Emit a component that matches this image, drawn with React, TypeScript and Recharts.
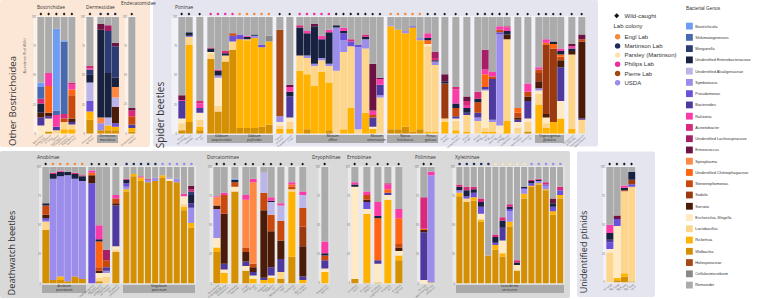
import React from "react";
import { BarChart, Bar, XAxis, YAxis } from "recharts";

type Colony = "W" | "E" | "M" | "P" | "Ph" | "Pi" | "U";
type Sample = { id: string; c: Colony; [genus: string]: number | string };

// stacking order, bottom -> top
const stackOrder = [
  "wol", "ric", "lab", "esc", "sym", "pse", "bac", "hol", "ser", "sod", "ste", "chi",
  "alc", "spi", "ent", "mor", "ral", "aci", "lac", "enc", "shi", "bos", "cel", "rem",
];

// legend order, top -> bottom
const legendOrder = [
  "bos", "shi", "mor", "ent", "alc", "sym", "pse", "bac", "ral", "aci", "lac", "enc",
  "spi", "chi", "ste", "sod", "ser", "esc", "lab", "ric", "wol", "hol", "cel", "rem",
];

const genusNames: Record<string, string> = {
  bos: "Bostrichicola", shi: "Shikimatogenerans", mor: "Morganella",
  ent: "Unidentified Enterobacteriaceae", alc: "Unidentified Alcaligenaceae",
  sym: "Symbiotaxus", pse: "Pseudomonas", bac: "Bacteroides", ral: "Ralstonia",
  aci: "Acinetobacter", lac: "Unidentified Lachnospiraceae", enc: "Enterococcus",
  spi: "Spiroplasma", chi: "Unidentified Chitinophagaceae", ste: "Stenotrophomonas",
  sod: "Sodalis", ser: "Serratia", esc: "Escherichia–Shigella", lab: "Lactobacillus",
  ric: "Rickettsia", wol: "Wolbachia", hol: "Holosporaceae",
  cel: "Cellulosimicrobium", rem: "Remainder",
};

const genusColors: Record<string, string> = {
  bos: "#6E9CF2", shi: "#4868B0", mor: "#2B3C73", ent: "#18213F", alc: "#BAB6EA",
  sym: "#9C8DEB", pse: "#6B50D8", bac: "#4E3A9E", ral: "#FA3BA8", aci: "#D8297A",
  lac: "#A51E66", enc: "#6B1342", spi: "#FF8845", chi: "#FF6412", ste: "#C9480E",
  sod: "#9C3A0F", ser: "#4A1B08", esc: "#FFEAC4", lab: "#FDD68B", ric: "#FFB300",
  wol: "#D58F02", hol: "#A54A16", cel: "#888888", rem: "#ABABAB",
};

const colonyNames: [Colony, string][] = [
  ["E", "Engl Lab"], ["M", "Martinson Lab"], ["P", "Parsley (Martinson)"],
  ["Ph", "Philips Lab"], ["Pi", "Pierre Lab"], ["U", "USDA"],
];
const colonyColors: Record<string, string> = {
  E: "#F58A3C", M: "#1F2C57", P: "#FFE2AE", Ph: "#EE2F9A", Pi: "#A04A12", U: "#9B8BEA",
};

// ---- Other Bostrichoidea ----
const bostrichidae: Sample[] = [
  { id: "Bostrichus capucinus", c: "W", esc: 7, ent: 8, ser: 4, bac: 7, aci: 4, shi: 10, bos: 4, rem: 56 },
  { id: "Dinoderus minutus", c: "W", wol: 2, esc: 11, bac: 2, ser: 3, chi: 23, ral: 11, rem: 48 },
  { id: "Lyctus brunneus", c: "W", lab: 3, bac: 3, ral: 10, shi: 4, bos: 70, rem: 10 },
  { id: "Prostephanus truncatus", c: "W", ric: 4, lab: 6, ste: 3, aci: 4, shi: 62, bos: 1, rem: 20 },
  { id: "Rhyzopertha dominica", c: "W", lab: 4, ric: 4, bac: 2, ser: 3, ste: 20, chi: 5, ral: 4, aci: 2, rem: 56 },
];
const dermestidaeA: Sample[] = [
  { id: "Anthrenus verbasci", c: "W", wol: 12, ric: 7, alc: 16, ent: 7, pse: 9, mor: 4, aci: 2, ral: 1, rem: 42 },
];
const dermestesMaculatus: Sample[] = [
  { id: "Dermestes maculatus", c: "M", wol: 3, sym: 6, ent: 75, spi: 5, enc: 5, rem: 6 },
  { id: "Dermestes maculatus", c: "M", wol: 3, ric: 4, alc: 7, ent: 38, lac: 5, mor: 36, rem: 7 },
  { id: "Dermestes maculatus", c: "M", wol: 3, ric: 3, alc: 8, ent: 8, ser: 14, pse: 3, spi: 9, enc: 3, mor: 27, rem: 22 },
];
const endecatomidae: Sample[] = [
  { id: "Endecatomus rugosus", c: "W", wol: 2, ric: 3, bac: 3, ste: 7, aci: 5, enc: 2, rem: 78 },
];

// ---- Spider beetles ----
const ptinusA: Sample[] = [
  { id: "Ptinus bicinctus", c: "W", wol: 3, lab: 6, esc: 4, bac: 15, enc: 4, ral: 1, rem: 67 },
  { id: "Ptinus clavipes", c: "W", wol: 10, ric: 66, lab: 7, ent: 3, pse: 1, rem: 13 },
];
const ptinusB: Sample[] = [
  { id: "Ptinus fur", c: "W", wol: 3, ric: 3, lab: 6, esc: 6, bac: 4, ral: 4, aci: 2, rem: 72 },
];
const gibbiumAeq: Sample[] = [
  { id: "Gibbium aequinoctiale", c: "Ph", wol: 64, lab: 5, esc: 1, ent: 3, aci: 1, rem: 26 },
  { id: "Gibbium aequinoctiale", c: "Ph", wol: 19, lab: 5, sym: 2, esc: 24, ent: 4, aci: 1, rem: 45 },
  { id: "Gibbium aequinoctiale", c: "Ph", wol: 62, lab: 5, ent: 2, aci: 2, rem: 29 },
  { id: "Gibbium aequinoctiale", c: "Ph", wol: 72, lab: 7, pse: 5, ste: 2, rem: 14 },
];
const gibbiumPsy: Sample[] = [
  { id: "Gibbium psylloides", c: "E", wol: 5, ric: 76, pse: 4, rem: 15 },
  { id: "Gibbium psylloides", c: "E", wol: 5, ric: 75, lab: 1, ent: 2, ral: 1, rem: 16 },
  { id: "Gibbium psylloides", c: "E", wol: 5, ric: 77, sym: 2, ent: 1, rem: 15 },
  { id: "Gibbium psylloides", c: "E", wol: 6, ric: 68, pse: 2, rem: 24 },
  { id: "Gibbium psylloides", c: "E", wol: 8, ric: 71, cel: 5, rem: 16 },
];
const tipnus: Sample[] = [
  { id: "Tipnus unicolor", c: "W", ric: 4, lab: 3, sym: 5, esc: 3, hol: 74, rem: 11 },
];
const pseudeurostus: Sample[] = [
  { id: "Pseudeurostus hilleri", c: "W", ric: 4, lab: 6, esc: 4, ent: 4, bac: 18, enc: 2, ral: 4, rem: 58 },
];
const meziumAffine: Sample[] = [
  { id: "Mezium affine", c: "Ph", ric: 54, lab: 13, ent: 24, aci: 2, rem: 7 },
  { id: "Mezium affine", c: "Ph", wol: 4, ric: 47, lab: 14, sym: 2, ent: 19, ral: 2, rem: 12 },
  { id: "Mezium affine", c: "Ph", ric: 41, lab: 17, sym: 2, ent: 32, enc: 2, rem: 6 },
  { id: "Mezium affine", c: "Ph", ric: 53, lab: 10, sym: 2, ent: 16, ral: 3, rem: 16 },
  { id: "Mezium affine", c: "Ph", wol: 3, ric: 41, lab: 14, sym: 2, ent: 27, ral: 2, rem: 11 },
  { id: "Mezium affine", c: "W", lab: 54, sym: 37, ent: 2, rem: 7 },
  { id: "Mezium affine", c: "W", ric: 4, lab: 66, sym: 10, pse: 6, ent: 2, ral: 3, rem: 9 },
  { id: "Mezium affine", c: "W", ric: 22, lab: 53, pse: 4, aci: 2, rem: 19 },
  { id: "Mezium affine", c: "W", lab: 4, sym: 70, pse: 2, rem: 24 },
  { id: "Mezium affine", c: "W", ric: 18, lab: 55, sym: 8, ent: 2, aci: 2, rem: 15 },
];
const meziumAmericanum: Sample[] = [
  { id: "Mezium americanum", c: "W", ric: 4, esc: 2, bac: 8, ste: 2, enc: 40, ral: 4, rem: 40 },
  { id: "Mezium americanum", c: "W", lab: 31, sym: 2, bac: 9, enc: 1, ral: 5, rem: 52 },
];
const niptusHololeucus: Sample[] = [
  { id: "Niptus hololeucus", c: "E", wol: 4, ric: 88, sym: 1, rem: 7 },
  { id: "Niptus hololeucus", c: "E", wol: 4, ric: 85, rem: 11 },
  { id: "Niptus hololeucus", c: "E", wol: 6, ric: 80, sym: 2, rem: 12 },
  { id: "Niptus hololeucus", c: "E", wol: 2, ric: 89, pse: 1, rem: 8 },
  { id: "Niptus hololeucus", c: "E", wol: 4, ric: 76, sym: 2, rem: 18 },
];
const ptinusGulosus: Sample[] = [
  { id: "Ptinus gulosus", c: "W", ric: 2, lab: 73, esc: 2, ent: 2, chi: 3, ral: 4, rem: 14 },
  { id: "Ptinus gulosus", c: "W", ric: 2, lab: 57, sym: 3, ent: 1, lac: 5, aci: 2, rem: 30 },
];
const ptinusTectus: Sample[] = [
  { id: "Ptinus tectus", c: "W", ric: 10, lab: 3, ent: 2, sod: 30, enc: 6, rem: 49 },
];
const ptinusSex: Sample[] = [
  { id: "Ptinus sexpunctatus", c: "W", ric: 3, lab: 8, esc: 2, bac: 2, ste: 7, ent: 4, ral: 12, aci: 2, rem: 60 },
];
const ptinusVilliger: Sample[] = [
  { id: "Ptinus villiger", c: "W", ric: 2, lab: 14, ent: 4, bac: 2, enc: 4, aci: 4, ral: 2, rem: 68 },
];
const ptinusGroup: Sample[] = [
  { id: "Ptinus raptor", c: "W", lab: 11, sym: 3, ent: 3, bac: 4, ste: 9, aci: 6, rem: 64 },
  { id: "Ptinus latro", c: "W", ric: 2, lab: 3, sym: 1, esc: 32, bac: 2, chi: 11, lac: 17, ral: 4, rem: 28 },
  { id: "Ptinus pusillus", c: "W", ric: 2, lab: 8, sym: 2, bac: 35, ste: 2, ral: 4, rem: 47 },
  { id: "Ptinus rufipes", c: "W", lab: 1, sym: 78, pse: 2, esc: 6, ste: 2, ral: 3, rem: 8 },
  { id: "Ptinus subpilosus", c: "W", ric: 11, lab: 70, ent: 3, ser: 4, ral: 3, aci: 1, rem: 8 },
];
const niptusVentriculus: Sample[] = [
  { id: "Niptus ventriculus", c: "W", lab: 5, esc: 5, ser: 2, bac: 2, ste: 4, chi: 4, rem: 78 },
];
const eurostus: Sample[] = [
  { id: "Eurostus sp.", c: "W", wol: 2, lab: 8, esc: 3, ser: 4, bac: 15, ste: 4, ral: 7, rem: 57 },
];
const trigonogenius: Sample[] = [
  { id: "Trigonogenius globulus", c: "W", ric: 25, lab: 9, esc: 3, sym: 2, ser: 6, sod: 7, ste: 3, ral: 2, rem: 43 },
  { id: "Trigonogenius globulus", c: "W", ric: 5, lab: 4, esc: 5, ser: 3, sod: 59, chi: 2, ral: 3, rem: 19 },
  { id: "Trigonogenius globulus", c: "W", ric: 10, ent: 2, sod: 63, chi: 4, rem: 21 },
  { id: "Trigonogenius globulus", c: "W", ric: 13, esc: 15, ent: 3, bac: 29, ser: 6, ste: 3, chi: 2, ral: 2, rem: 27 },
];
const sphaericus: Sample[] = [
  { id: "Sphaericus gibboides", c: "W", ric: 4, lab: 64, ser: 3, ent: 2, enc: 2, ral: 2, rem: 23 },
];
const stethomezium: Sample[] = [
  { id: "Stethomezium squamosum", c: "W", lab: 12, bac: 1, ser: 66, enc: 4, ste: 2, rem: 15 },
];

// ---- Deathwatch beetles ----
const anobiumPunctatum: Sample[] = [
  { id: "Anobium punctatum", c: "W", wol: 46, lab: 7, sym: 1, pse: 2, ser: 3, ste: 8, ent: 2, rem: 31 },
  { id: "Anobium punctatum", c: "E", wol: 3, sym: 87, ent: 4, aci: 1, rem: 5 },
  { id: "Anobium punctatum", c: "E", wol: 3, ric: 3, sym: 86, ent: 4, ral: 1, rem: 3 },
  { id: "Anobium punctatum", c: "E", wol: 2, sym: 91, ent: 3, rem: 4 },
  { id: "Anobium punctatum", c: "E", wol: 6, sym: 84, ent: 4, aci: 1, rem: 5 },
  { id: "Anobium punctatum", c: "E", wol: 4, sym: 84, ent: 4, aci: 1, rem: 7 },
];
const anobiinaeB: Sample[] = [
  { id: "Hadrobregmus pertinax", c: "W", ser: 7, pse: 86, chi: 2, ral: 2, rem: 3 },
  { id: "Hemicoelus gibbicollis", c: "W", wol: 2, lab: 3, esc: 4, ent: 2, ser: 2, ste: 3, chi: 22, ral: 12, rem: 50 },
  { id: "Oligomerus ptilinoides", c: "W", lab: 6, esc: 3, sym: 2, bac: 3, ste: 6, lac: 9, rem: 71 },
];
const nicobium: Sample[] = [
  { id: "Nicobium castaneum", c: "W", wol: 27, lab: 2, esc: 3, ser: 2, bac: 35, ste: 4, ral: 3, rem: 24 },
];
const stegobiumPaniceum: Sample[] = [
  { id: "Stegobium paniceum", c: "M", wol: 79, ric: 2, sym: 2, pse: 3, ent: 3, aci: 1, rem: 10 },
  { id: "Stegobium paniceum", c: "M", wol: 92, ric: 2, rem: 6 },
  { id: "Stegobium paniceum", c: "M", wol: 88, ric: 3, ral: 1, rem: 8 },
  { id: "Stegobium paniceum", c: "M", wol: 87, sym: 2, aci: 1, rem: 10 },
  { id: "Stegobium paniceum", c: "M", wol: 88, sym: 3, rem: 9 },
  { id: "Stegobium paniceum", c: "U", wol: 91, ric: 2, rem: 7 },
  { id: "Stegobium paniceum", c: "U", wol: 88, esc: 2, sym: 1, rem: 9 },
  { id: "Stegobium paniceum", c: "U", wol: 87, sym: 3, rem: 10 },
  { id: "Stegobium paniceum", c: "U", wol: 63, ric: 3, esc: 7, lab: 2, ral: 2, rem: 23 },
  { id: "Stegobium paniceum", c: "U", wol: 48, ric: 4, sym: 13, ent: 7, bac: 4, enc: 3, aci: 2, mor: 3, rem: 16 },
];
const dorcatomaA: Sample[] = [
  { id: "Dorcatoma chrysomelina", c: "W", wol: 27, esc: 8, sym: 25, ser: 3, spi: 7, ric: 4, ral: 1, rem: 25 },
  { id: "Dorcatoma dresdensis", c: "W", ric: 9, esc: 3, bac: 5, ser: 43, ste: 16, ral: 2, rem: 22 },
];
const caenocara: Sample[] = [
  { id: "Caenocara bovistae", c: "W", wol: 79, esc: 4, ste: 4, ent: 2, bos: 1, rem: 10 },
];
const anitys: Sample[] = [
  { id: "Anitys rubens", c: "W", wol: 11, esc: 4, ser: 8, bac: 4, ste: 4, spi: 41, ral: 4, rem: 24 },
  { id: "Anitys sp.", c: "W", ric: 4, esc: 3, bac: 3, ser: 4, ste: 3, spi: 70, ral: 3, rem: 10 },
];
const stagetus: Sample[] = [
  { id: "Stagetus pilula", c: "W", ric: 3, ser: 58, bac: 2, ste: 15, alc: 17, rem: 5 },
  { id: "Stagetus sp.", c: "W", ric: 5, esc: 2, ent: 1, ser: 31, bac: 7, ste: 14, ral: 3, alc: 11, rem: 26 },
];
const mesocoelopus: Sample[] = [
  { id: "Mesocoelopus niger", c: "W", wol: 4, lab: 6, ser: 16, bac: 11, ste: 17, ral: 2, alc: 13, rem: 31 },
];
const tricorynus: Sample[] = [
  { id: "Tricorynus sp.", c: "W", wol: 23, ric: 56, lab: 2, chi: 2, ste: 2, ral: 2, rem: 13 },
];
const byrrhodes: Sample[] = [
  { id: "Byrrhodes tristriatus", c: "W", ric: 3, ser: 26, bac: 3, sod: 17, ste: 16, ral: 3, alc: 11, rem: 21 },
];
const dryophilus: Sample[] = [
  { id: "Dryophilus pusillus", c: "W", ric: 10, esc: 3, ent: 2, bac: 7, ste: 4, ral: 10, rem: 64 },
];
const ernobiusA: Sample[] = [{ id: "Ernobius mollis", c: "W", wol: 4, esc: 79, ent: 2, ral: 2, rem: 13 }];
const ernobiusB: Sample[] = [{ id: "Ernobius abietis", c: "W", wol: 1, ric: 59, esc: 4, pse: 6, ser: 2, ste: 4, ral: 3, rem: 21 }];
const ernobiusC: Sample[] = [{ id: "Ernobius angusticollis", c: "W", wol: 1, esc: 16, ent: 2, bac: 3, chi: 36, ral: 12, rem: 30 }];
const ernobiusD: Sample[] = [{ id: "Ernobius pini", c: "W", ric: 72, esc: 4, bac: 2, chi: 3, ral: 4, aci: 1, rem: 14 }];
const ernobiusE: Sample[] = [{ id: "Ernobius nigrinus", c: "W", wol: 20, ric: 4, esc: 4, ser: 3, ste: 3, chi: 22, ral: 8, rem: 36 }];
const ptilinus: Sample[] = [
  { id: "Ptilinus pectinicornis", c: "W", esc: 3, ser: 2, bac: 41, chi: 1, aci: 27, rem: 26 },
  { id: "Ptilinus ruficornis", c: "W", ric: 1, sym: 92, ral: 3, rem: 4 },
];
const lasioderma: Sample[] = [
  { id: "Lasioderma serricorne", c: "M", wol: 75, ric: 3, sym: 2, ent: 3, aci: 2, rem: 15 },
  { id: "Lasioderma serricorne", c: "M", wol: 70, lab: 3, ent: 5, aci: 3, pse: 2, rem: 17 },
  { id: "Lasioderma serricorne", c: "M", wol: 71, ric: 3, pse: 4, ent: 3, aci: 2, rem: 17 },
  { id: "Lasioderma serricorne", c: "M", wol: 53, ric: 2, esc: 5, pse: 6, ent: 4, aci: 3, rem: 27 },
  { id: "Lasioderma serricorne", c: "M", wol: 24, rem: 76 },
  { id: "Lasioderma serricorne", c: "P", wol: 29, ric: 4, ent: 5, pse: 2, aci: 2, rem: 58 },
  { id: "Lasioderma serricorne", c: "P", wol: 23, ric: 3, esc: 11, ent: 6, bac: 11, aci: 3, rem: 43 },
  { id: "Lasioderma serricorne", c: "P", wol: 49, ric: 4, sym: 9, pse: 2, ent: 2, aci: 2, rem: 32 },
  { id: "Lasioderma serricorne", c: "P", wol: 11, esc: 4, lab: 1, ent: 2, aci: 2, rem: 80 },
  { id: "Lasioderma serricorne", c: "P", wol: 73, ric: 4, sym: 4, pse: 1, ent: 1, rem: 17 },
  { id: "Lasioderma serricorne", c: "U", wol: 83, ric: 1, pse: 2, ent: 2, aci: 1, rem: 11 },
  { id: "Lasioderma serricorne", c: "U", wol: 85, ric: 1, sym: 2, ent: 1, aci: 1, rem: 10 },
  { id: "Lasioderma serricorne", c: "U", wol: 80, ric: 1, sym: 3, pse: 1, aci: 2, rem: 13 },
  { id: "Lasioderma serricorne", c: "U", wol: 59, ric: 3, pse: 4, ent: 3, enc: 4, rem: 27 },
  { id: "Lasioderma serricorne", c: "U", wol: 73, ric: 3, pse: 4, aci: 3, rem: 17 },
];

// ---- Unidentified ptinids ----
const unidentified: Sample[] = [
  { id: "Ptinidae sp. 1", c: "W", lab: 26, esc: 3, ent: 6, bac: 2, pse: 6, ral: 7, rem: 50 },
  { id: "Ptinidae sp. 2", c: "W", wol: 2, ric: 2, esc: 45, pse: 6, enc: 3, rem: 42 },
  { id: "Ptinidae sp. 3", c: "W", wol: 5, ric: 3, lab: 71, ent: 2, ral: 2, ste: 1, rem: 16 },
  { id: "Ptinidae sp. 4", c: "W", wol: 1, lab: 82, pse: 2, ent: 7, sod: 4, rem: 4 },
];

const TOP_Y = 16.5;
const TOP_H = 116.8;
const BOT_Y = 166.7;
const BOT_H = 116.6;

function toRows(data: Sample[]) {
  return data.map((d) => {
    const total = stackOrder.reduce((s, k) => s + ((d[k] as number) || 0), 0);
    const row: Record<string, number | string> = { id: d.id, c: d.c };
    stackOrder.forEach((k) => (row[k] = (((d[k] as number) || 0) * 100) / total));
    return row;
  });
}

function Marker({ x, y, c }: { x: number; y: number; c: Colony }) {
  const cy = y - 3;
  if (c === "W") {
    return <path d={`M${x} ${cy - 1.4}L${x + 1.4} ${cy}L${x} ${cy + 1.4}L${x - 1.4} ${cy}Z`} fill="#111" />;
  }
  return <circle cx={x} cy={cy} r={1.3} fill={colonyColors[c]} />;
}

// two-line slanted species label under a bar
function SpeciesTick({ x, y, payload }: any) {
  const tx = x + 2.5;
  const ty = y + 1.2;
  const [genus, ...rest] = String(payload.value).split(" ");
  return (
    <text x={tx} y={ty} transform={`rotate(-40 ${tx} ${ty})`} textAnchor="end" fontSize={2.6} fill="#555">
      <tspan x={tx} dy={0}>{genus}</tspan>
      <tspan x={tx} dy={2.8}>{rest.join(" ")}</tspan>
    </text>
  );
}

function Cluster({
  data, x, y, h, pitch = 7.3, axis = false, box,
}: { data: Sample[]; x: number; y: number; h: number; pitch?: number; axis?: boolean; box?: boolean }) {
  const ax = axis ? 6 : 0;
  const topH = 6;
  const botH = 12;
  const w = pitch * data.length;
  const words = data[0].id.split(" ");
  return (
    <div style={{ position: "absolute", left: x - ax, top: y - topH }}>
      <BarChart
        width={ax + w}
        height={topH + h + botH}
        data={toRows(data)}
        margin={{ top: 0, right: 0, bottom: 0, left: 0 }}
        barCategoryGap="5%"
      >
        <XAxis
          xAxisId="mk"
          orientation="top"
          dataKey="id"
          height={topH}
          axisLine={false}
          tickLine={false}
          tickSize={0}
          tickMargin={0}
          interval={0}
          tick={(p: any) => <Marker x={p.x} y={p.y} c={data[p.index].c} />}
        />
        <XAxis
          dataKey="id"
          height={botH}
          axisLine={false}
          tickLine={false}
          tickSize={0}
          tickMargin={1}
          interval={0}
          tick={box ? false : (p: any) => <SpeciesTick {...p} />}
        />
        <YAxis
          hide={!axis}
          width={ax}
          domain={[0, 100]}
          allowDataOverflow
          ticks={[0, 25, 50, 75, 100]}
          axisLine={false}
          tickLine={false}
          tickSize={0}
          tickMargin={1}
          tick={{ fontSize: 2.6, fill: "#666" }}
        />
        {stackOrder.map((k) => (
          <Bar key={k} dataKey={k} stackId="s" fill={genusColors[k]} isAnimationActive={false} />
        ))}
      </BarChart>
      {box && (
        <div
          style={{
            position: "absolute", left: ax, top: topH + h + 1.6, width: w, height: 8.4,
            background: "#A9A9A9", color: "#2b2b2b", fontSize: 3.2, lineHeight: "3.6px",
            display: "flex", flexDirection: "column", justifyContent: "center", alignItems: "center",
            fontFamily: "Open Sans, sans-serif",
          }}
        >
          <span>{words[0]}</span>
          <span>{words.slice(1).join(" ")}</span>
        </div>
      )}
    </div>
  );
}

function Backdrop() {
  const title = (x: number, y: number, t: string) => (
    <text x={x} y={y} fontSize={4.8} fill="#333">{t}</text>
  );
  const panelLabel = (cx: number, cy: number, t: string, fs = 10) => (
    <text x={cx} y={cy} fontSize={fs} fill="#333" textAnchor="middle" dominantBaseline="central"
      transform={`rotate(-90 ${cx} ${cy})`}>{t}</text>
  );
  const plotBg = (x1: number, x2: number, y: number, h: number) => (
    <rect x={x1} y={y - 0.5} width={x2 - x1} height={h + 1} fill="#fff" opacity={0.45} />
  );
  return (
    <svg width={762} height={299} style={{ position: "absolute", left: 0, top: 0 }}
      fontFamily="Open Sans, sans-serif">
      <rect x={0} y={0} width={150} height={147} rx={2} fill="#FCE7D7" />
      <rect x={153} y={0} width={445} height={146.5} rx={2} fill="#E5E5F0" />
      <rect x={0} y={151} width={570} height={147} rx={2} fill="#D9D9D9" />
      <rect x={577} y={151.5} width={78} height={145.5} rx={2} fill="#E5E5F0" />

      {plotBg(33.5, 76.5, TOP_Y, TOP_H)}
      {plotBg(84, 118.5, TOP_Y, TOP_H)}
      {plotBg(125, 136, TOP_Y, TOP_H)}
      {plotBg(171.5, 586, TOP_Y, TOP_H)}
      {plotBg(39, 196, BOT_Y, BOT_H)}
      {plotBg(209.5, 307, BOT_Y, BOT_H)}
      {plotBg(318.5, 329.5, BOT_Y, BOT_H)}
      {plotBg(348, 402.5, BOT_Y, BOT_H)}
      {plotBg(417, 435, BOT_Y, BOT_H)}
      {plotBg(452.5, 564.5, BOT_Y, BOT_H)}
      {plotBg(603, 636, BOT_Y, 115.6)}

      {panelLabel(12, 101, "Other Bostrichoidea", 9.6)}
      {panelLabel(160, 115, "Spider beetles")}
      {panelLabel(11, 253, "Deathwatch beetles", 9.2)}
      {panelLabel(583, 252, "Unidentified ptinids", 9)}

      <text x={26} y={56} fontSize={3.3} fill="#555" textAnchor="middle" transform="rotate(-90 26 56)">
        Abundance (% of ASVs)
      </text>

      {title(37, 8.5, "Bostrichidae")}
      {title(86, 8.5, "Dermestidae")}
      {title(121, 4.5, "Endecatomidae")}
      {title(175, 8.5, "Ptininae")}
      {title(37, 158.5, "Anobiinae")}
      {title(207, 158.5, "Dorcatominae")}
      {title(312, 158.5, "Dryophilinae")}
      {title(347, 158.5, "Ernobiinae")}
      {title(415, 158.5, "Ptilininae")}
      {title(455, 158.5, "Xyletininae")}

      <g fontFamily="Liberation Sans, Arial, sans-serif" fontSize={6} fill="#333">
        <path d="M616.7 13.2L619.2 15.7L616.7 18.2L614.2 15.7Z" fill="#111" />
        <text x={624.5} y={17.8}>Wild-caught</text>
        <text x={613.5} y={28.3}>Lab colony</text>
        {colonyNames.map(([k, name], i) => (
          <g key={k}>
            <circle cx={617.6} cy={36.7 + i * 9.2} r={2.7} fill={colonyColors[k]} />
            <text x={624.5} y={38.8 + i * 9.2}>{name}</text>
          </g>
        ))}
      </g>

      <g fontFamily="Liberation Sans, Arial, sans-serif">
        <text x={686} y={10} fontSize={4.8} fill="#333">Bacterial Genus</text>
        {legendOrder.map((k, i) => (
          <g key={k}>
            <rect x={686} y={22.7 + i * 11.26} width={6.8} height={6.8} fill={genusColors[k]} />
            <text x={695.3} y={27.5 + i * 11.26} fontSize={3.9} fill="#333">{genusNames[k]}</text>
          </g>
        ))}
      </g>
    </svg>
  );
}

export default function App() {
  return (
    <div style={{ position: "absolute", left: 0, top: 0, width: 762, height: 299, background: "#fff",
      fontFamily: "Open Sans, sans-serif" }}>
      <style>{`.recharts-surface{overflow:visible}`}</style>
      <Backdrop />

      {/* Other Bostrichoidea */}
      <Cluster data={bostrichidae} x={37} y={TOP_Y} h={TOP_H} pitch={7.75} axis />
      <Cluster data={dermestidaeA} x={86} y={TOP_Y} h={TOP_H} pitch={8} axis />
      <Cluster data={dermestesMaculatus} x={96.6} y={TOP_Y} h={TOP_H} box />
      <Cluster data={endecatomidae} x={128} y={TOP_Y} h={TOP_H} pitch={7.6} axis />

      {/* Spider beetles */}
      <Cluster data={ptinusA} x={177.8} y={TOP_Y} h={TOP_H} axis />
      <Cluster data={ptinusB} x={196.3} y={TOP_Y} h={TOP_H} />
      <Cluster data={gibbiumAeq} x={206.9} y={TOP_Y} h={TOP_H} box />
      <Cluster data={gibbiumPsy} x={236.1} y={TOP_Y} h={TOP_H} box />
      <Cluster data={tipnus} x={275.6} y={TOP_Y} h={TOP_H} />
      <Cluster data={pseudeurostus} x={286.3} y={TOP_Y} h={TOP_H} />
      <Cluster data={meziumAffine} x={296.3} y={TOP_Y} h={TOP_H} box />
      <Cluster data={meziumAmericanum} x={369.3} y={TOP_Y} h={TOP_H} box />
      <Cluster data={niptusHololeucus} x={387} y={TOP_Y} h={TOP_H} box />
      <Cluster data={ptinusGulosus} x={423.5} y={TOP_Y} h={TOP_H} box />
      <Cluster data={ptinusTectus} x={441.3} y={TOP_Y} h={TOP_H} />
      <Cluster data={ptinusSex} x={452.3} y={TOP_Y} h={TOP_H} />
      <Cluster data={ptinusVilliger} x={463} y={TOP_Y} h={TOP_H} />
      <Cluster data={ptinusGroup} x={473.7} y={TOP_Y} h={TOP_H} />
      <Cluster data={niptusVentriculus} x={513.7} y={TOP_Y} h={TOP_H} />
      <Cluster data={eurostus} x={524.3} y={TOP_Y} h={TOP_H} />
      <Cluster data={trigonogenius} x={535} y={TOP_Y} h={TOP_H} box />
      <Cluster data={sphaericus} x={567.7} y={TOP_Y} h={TOP_H} />
      <Cluster data={stethomezium} x={578.3} y={TOP_Y} h={TOP_H} />

      {/* Deathwatch beetles */}
      <Cluster data={anobiumPunctatum} x={42.3} y={BOT_Y} h={BOT_H} axis box />
      <Cluster data={anobiinaeB} x={88.3} y={BOT_Y} h={BOT_H} />
      <Cluster data={nicobium} x={112.3} y={BOT_Y} h={BOT_H} />
      <Cluster data={stegobiumPaniceum} x={123} y={BOT_Y} h={BOT_H} pitch={7.2} box />
      <Cluster data={dorcatomaA} x={213} y={BOT_Y} h={BOT_H} axis />
      <Cluster data={caenocara} x={231.3} y={BOT_Y} h={BOT_H} />
      <Cluster data={anitys} x={242} y={BOT_Y} h={BOT_H} />
      <Cluster data={stagetus} x={260} y={BOT_Y} h={BOT_H} />
      <Cluster data={mesocoelopus} x={277.3} y={BOT_Y} h={BOT_H} />
      <Cluster data={tricorynus} x={288.3} y={BOT_Y} h={BOT_H} />
      <Cluster data={byrrhodes} x={299} y={BOT_Y} h={BOT_H} />
      <Cluster data={dryophilus} x={321.3} y={BOT_Y} h={BOT_H} axis />
      <Cluster data={ernobiusA} x={351.3} y={BOT_Y} h={BOT_H} axis />
      <Cluster data={ernobiusB} x={363} y={BOT_Y} h={BOT_H} />
      <Cluster data={ernobiusC} x={373.7} y={BOT_Y} h={BOT_H} />
      <Cluster data={ernobiusD} x={384.3} y={BOT_Y} h={BOT_H} />
      <Cluster data={ernobiusE} x={394.7} y={BOT_Y} h={BOT_H} />
      <Cluster data={ptilinus} x={419.7} y={BOT_Y} h={BOT_H} axis />
      <Cluster data={lasioderma} x={455.7} y={BOT_Y} h={BOT_H} pitch={7.2} axis box />

      {/* Unidentified ptinids */}
      <Cluster data={unidentified} x={606.3} y={BOT_Y} h={115.6} axis />
    </div>
  );
}
